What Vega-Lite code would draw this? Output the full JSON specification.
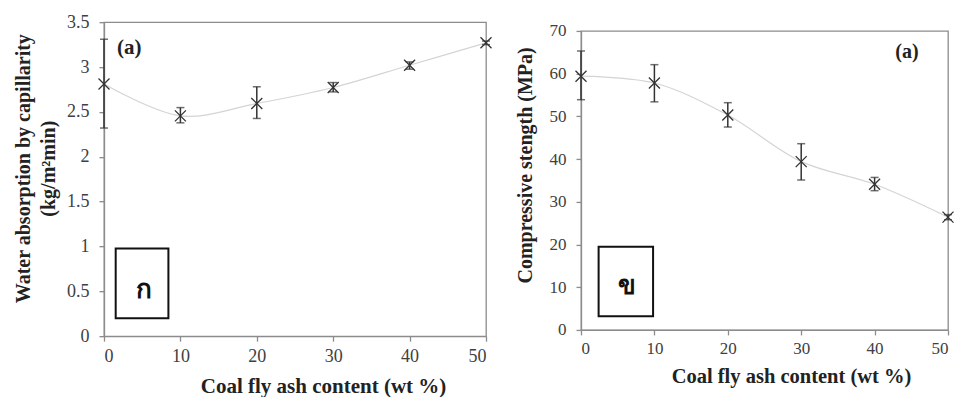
{
  "$schema": "https://vega.github.io/schema/vega-lite/v6.json",
  "background": "white",
  "padding": {"left": 12, "top": 12, "right": 0, "bottom": 0},
  "spacing": 19,
  "center": true,
  "datasets": {
    "water": [
      {"x": 0, "y": 2.81, "lo": 2.32, "hi": 3.31},
      {"x": 10, "y": 2.456, "lo": 2.378, "hi": 2.548},
      {"x": 20, "y": 2.594, "lo": 2.427, "hi": 2.78},
      {"x": 30, "y": 2.772, "lo": 2.723, "hi": 2.827},
      {"x": 40, "y": 3.02, "lo": 2.976, "hi": 3.057},
      {"x": 50, "y": 3.27, "lo": 3.25, "hi": 3.29}
    ],
    "strength": [
      {"x": 0, "y": 59.4, "lo": 53.9, "hi": 65.3},
      {"x": 10, "y": 57.8, "lo": 53.4, "hi": 62.1},
      {"x": 20, "y": 50.3, "lo": 47.5, "hi": 53.2},
      {"x": 30, "y": 39.4, "lo": 35.1, "hi": 43.6},
      {"x": 40, "y": 34.1, "lo": 32.6, "hi": 35.7},
      {"x": 50, "y": 26.4, "lo": 25.8, "hi": 27.0}
    ],
    "boxA": [{"x1": 1.53, "x2": 8.43, "y1": 0.2, "y2": 0.977, "tx": 5.3, "ty": 0.52, "label": "ก"}],
    "boxB": [{"x1": 2.4, "x2": 9.82, "y1": 3.2, "y2": 19.5, "tx": 6.3, "ty": 10.2, "label": "ข"}],
    "tagA": [{"x": 3.3, "y": 3.21, "label": "(a)"}],
    "tagB": [{"x": 44.4, "y": 65.1, "label": "(a)"}]
  },
  "config": {
    "view": {"stroke": "#8c8c8c", "strokeWidth": 1.3},
    "axis": {
      "grid": false,
      "domainColor": "#8c8c8c",
      "domainWidth": 1.3,
      "tickColor": "#8c8c8c",
      "tickWidth": 1.3,
      "tickSize": 5,
      "labelFont": "Liberation Serif",
      "labelColor": "#404040",
      "titleFont": "Liberation Serif",
      "titleFontWeight": "bold",
      "titleColor": "#222222"
    }
  },
  "hconcat": [
    {
      "width": 382,
      "height": 314,
      "data": {"name": "water"},
      "layer": [
        {
          "mark": {"type": "line", "interpolate": "catmull-rom", "color": "#d4d4d4", "strokeWidth": 1.2},
          "encoding": {
            "x": {"field": "x", "type": "quantitative", "title": "Coal fly ash content (wt %)",
              "scale": {"domain": [0, 50], "nice": false},
              "axis": {"values": [0, 10, 20, 30, 40, 50], "labelFontSize": 18, "titleFontSize": 21, "labelPadding": 6, "titlePadding": 10, "titleX": 219}},
            "y": {"field": "y", "type": "quantitative", "title": ["Water absorption by capillarity", "(kg/m²min)"],
              "scale": {"domain": [0, 3.5], "nice": false},
              "axis": {"values": [0, 0.5, 1, 1.5, 2, 2.5, 3, 3.5], "format": "~g", "labelFontSize": 18, "titleFontSize": 20, "titleLineHeight": 25, "labelPadding": 10, "titlePadding": 8, "titleY": 146}}
          }
        },
        {
          "mark": {"type": "rule", "color": "#333333", "strokeWidth": 1.5},
          "encoding": {
            "x": {"field": "x", "type": "quantitative"},
            "y": {"field": "lo", "type": "quantitative"},
            "y2": {"field": "hi"}
          }
        },
        {
          "mark": {"type": "tick", "orient": "horizontal", "color": "#333333", "thickness": 1.5, "size": 8},
          "encoding": {
            "x": {"field": "x", "type": "quantitative"},
            "y": {"field": "lo", "type": "quantitative"}
          }
        },
        {
          "mark": {"type": "tick", "orient": "horizontal", "color": "#333333", "thickness": 1.5, "size": 8},
          "encoding": {
            "x": {"field": "x", "type": "quantitative"},
            "y": {"field": "hi", "type": "quantitative"}
          }
        },
        {
          "mark": {"type": "point", "shape": "M-1,-1L1,1M-1,1L1,-1", "filled": false, "stroke": "#333333", "strokeWidth": 1.3, "size": 121, "opacity": 1},
          "encoding": {
            "x": {"field": "x", "type": "quantitative"},
            "y": {"field": "y", "type": "quantitative"}
          }
        },
        {
          "data": {"name": "boxA"},
          "mark": {"type": "rect", "fill": "white", "stroke": "#111111", "strokeWidth": 2},
          "encoding": {
            "x": {"field": "x1", "type": "quantitative"},
            "x2": {"field": "x2"},
            "y": {"field": "y1", "type": "quantitative"},
            "y2": {"field": "y2"}
          }
        },
        {
          "data": {"name": "boxA"},
          "mark": {"type": "text", "font": "Noto Sans", "fontWeight": "bold", "fontSize": 26, "color": "#111111", "align": "center", "baseline": "middle"},
          "encoding": {
            "x": {"field": "tx", "type": "quantitative"},
            "y": {"field": "ty", "type": "quantitative"},
            "text": {"field": "label"}
          }
        },
        {
          "data": {"name": "tagA"},
          "mark": {"type": "text", "font": "Liberation Serif", "fontWeight": "bold", "fontSize": 21, "color": "#222222", "align": "center", "baseline": "middle"},
          "encoding": {
            "x": {"field": "x", "type": "quantitative"},
            "y": {"field": "y", "type": "quantitative"},
            "text": {"field": "label"}
          }
        }
      ]
    },
    {
      "width": 367,
      "height": 299,
      "data": {"name": "strength"},
      "layer": [
        {
          "mark": {"type": "line", "interpolate": "catmull-rom", "color": "#d4d4d4", "strokeWidth": 1.2},
          "encoding": {
            "x": {"field": "x", "type": "quantitative", "title": "Coal fly ash content (wt %)",
              "scale": {"domain": [0, 50], "nice": false},
              "axis": {"values": [0, 10, 20, 30, 40, 50], "labelFontSize": 17, "titleFontSize": 20.5, "labelPadding": 6, "titlePadding": 10, "titleX": 210}},
            "y": {"field": "y", "type": "quantitative", "title": "Compressive stength (MPa)",
              "scale": {"domain": [0, 70], "nice": false},
              "axis": {"values": [0, 10, 20, 30, 40, 50, 60, 70], "labelFontSize": 17, "titleFontSize": 20, "labelPadding": 10, "titlePadding": 14, "titleY": 134}}
          }
        },
        {
          "mark": {"type": "rule", "color": "#333333", "strokeWidth": 1.5},
          "encoding": {
            "x": {"field": "x", "type": "quantitative"},
            "y": {"field": "lo", "type": "quantitative"},
            "y2": {"field": "hi"}
          }
        },
        {
          "mark": {"type": "tick", "orient": "horizontal", "color": "#333333", "thickness": 1.5, "size": 8},
          "encoding": {
            "x": {"field": "x", "type": "quantitative"},
            "y": {"field": "lo", "type": "quantitative"}
          }
        },
        {
          "mark": {"type": "tick", "orient": "horizontal", "color": "#333333", "thickness": 1.5, "size": 8},
          "encoding": {
            "x": {"field": "x", "type": "quantitative"},
            "y": {"field": "hi", "type": "quantitative"}
          }
        },
        {
          "mark": {"type": "point", "shape": "M-1,-1L1,1M-1,1L1,-1", "filled": false, "stroke": "#333333", "strokeWidth": 1.3, "size": 121, "opacity": 1},
          "encoding": {
            "x": {"field": "x", "type": "quantitative"},
            "y": {"field": "y", "type": "quantitative"}
          }
        },
        {
          "data": {"name": "boxB"},
          "mark": {"type": "rect", "fill": "white", "stroke": "#111111", "strokeWidth": 2},
          "encoding": {
            "x": {"field": "x1", "type": "quantitative"},
            "x2": {"field": "x2"},
            "y": {"field": "y1", "type": "quantitative"},
            "y2": {"field": "y2"}
          }
        },
        {
          "data": {"name": "boxB"},
          "mark": {"type": "text", "font": "Noto Sans", "fontWeight": "bold", "fontSize": 26, "color": "#111111", "align": "center", "baseline": "middle"},
          "encoding": {
            "x": {"field": "tx", "type": "quantitative"},
            "y": {"field": "ty", "type": "quantitative"},
            "text": {"field": "label"}
          }
        },
        {
          "data": {"name": "tagB"},
          "mark": {"type": "text", "font": "Liberation Serif", "fontWeight": "bold", "fontSize": 20, "color": "#222222", "align": "center", "baseline": "middle"},
          "encoding": {
            "x": {"field": "x", "type": "quantitative"},
            "y": {"field": "y", "type": "quantitative"},
            "text": {"field": "label"}
          }
        }
      ]
    }
  ]
}
